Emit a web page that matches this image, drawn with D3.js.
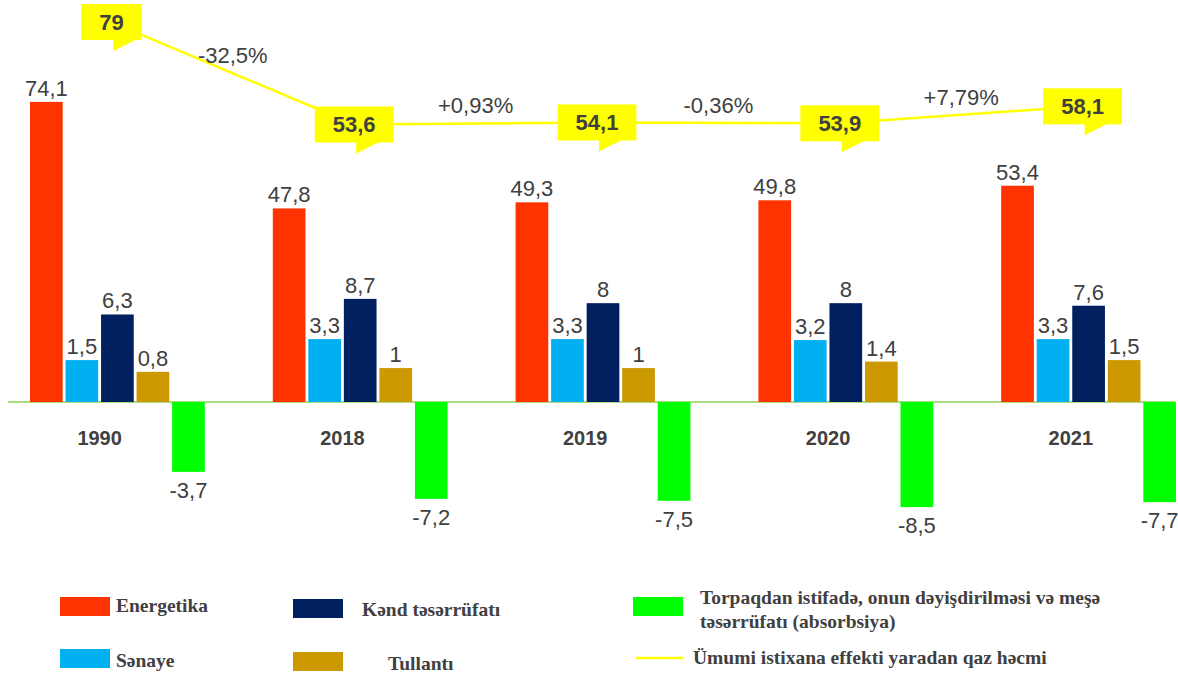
<!DOCTYPE html>
<html lang="az">
<head>
<meta charset="UTF-8">
<title>İstixana qazları</title>
<script src="https://d3js.org/d3.v7.min.js"></script>
<style>
    body { margin: 0; background: #fff; }
    svg { display: block; }
    .val { font-family: "Liberation Sans", Arial, sans-serif; font-size: 22px; fill: #404040; }
    .year { font-family: "Liberation Sans", Arial, sans-serif; font-size: 20px; font-weight: bold; fill: #404040; }
    .legend { font-family: "Liberation Serif", "Times New Roman", serif; font-size: 19.5px; font-weight: bold; fill: #404040; }
</style>
</head>
<body>
<svg id="chart" width="1178" height="675"></svg>
<script>
    // data
    const years = ["1990", "2018", "2019", "2020", "2021"];
    const energetika = [74.1, 47.8, 49.3, 49.8, 53.4];
    const senaye = [1.5, 3.3, 3.3, 3.2, 3.3];
    const kend = [6.3, 8.7, 8, 8, 7.6];
    const tullanti = [0.8, 1, 1, 1.4, 1.5];
    const torpaq = [-3.7, -7.2, -7.5, -8.5, -7.7];
    const umumi = [79, 53.6, 54.1, 53.9, 58.1];
    const changes = ["-32,5%", "+0,93%", "-0,36%", "+7,79%"];

    const series = [
        { key: "energetika", name: "Energetika", values: energetika, color: "#FF3300" },
        { key: "senaye", name: "Sənaye", values: senaye, color: "#00B0F0" },
        { key: "kend", name: "Kənd təsərrüfatı", values: kend, color: "#002060" },
        { key: "tullanti", name: "Tullantı", values: tullanti, color: "#CC9900" },
        { key: "torpaq", name: "Torpaqdan istifadə, onun dəyişdirilməsi və meşə təsərrüfatı (absorbsiya)", values: torpaq, color: "#00FF00" }
    ];

    const svg = d3.select("#chart");
    const zeroY = 402;
    const fmt = v => String(v).replace(".", ",");

    // group + inner band scales
    const x0 = d3.scaleBand().domain(years).range([-4, 1210]).paddingInner(0.28).paddingOuter(0.14);
    const x1 = d3.scaleBand().domain(series.map(s => s.key)).range([0, x0.bandwidth()]).paddingInner(0.08);

    // the big sector uses a linear scale, the small ones are drawn on a compressed (sqrt) scale like the original
    const yMain = d3.scaleLinear().domain([0, 80]).range([zeroY, zeroY - 4.05 * 80]);
    const ySmall = d3.scaleSqrt().domain([-10, 10]).range([zeroY + 36 * Math.sqrt(10), zeroY - 35 * Math.sqrt(10)]);
    const yLine = d3.scaleLinear().domain([50, 80]).range([139, 18]);

    const yFor = s => s.key === "energetika" ? yMain : ySmall;

    const rows = [];
    series.forEach(s => {
        s.values.forEach((v, i) => rows.push({ s, year: years[i], v }));
    });

    // zero line
    svg.append("line")
        .attr("x1", 8).attr("x2", 1175)
        .attr("y1", zeroY).attr("y2", zeroY)
        .attr("stroke", "#92D050").attr("stroke-width", 1.5);

    // bars
    svg.selectAll("rect.bar")
        .data(rows)
        .enter()
        .append("rect")
        .attr("class", "bar")
        .attr("x", d => x0(d.year) + x1(d.s.key))
        .attr("width", x1.bandwidth())
        .attr("y", d => Math.min(yFor(d.s)(d.v), zeroY))
        .attr("height", d => Math.abs(yFor(d.s)(d.v) - zeroY))
        .attr("fill", d => d.s.color);

    // value labels
    svg.selectAll("text.val")
        .data(rows)
        .enter()
        .append("text")
        .attr("class", "val")
        .attr("text-anchor", "middle")
        .attr("x", d => x0(d.year) + x1(d.s.key) + x1.bandwidth() / 2)
        .attr("y", d => d.v < 0 ? yFor(d.s)(d.v) + 26 : yFor(d.s)(d.v) - 6)
        .text(d => fmt(d.v));

    // year labels, centred under the first four bars
    svg.selectAll("text.year")
        .data(years)
        .enter()
        .append("text")
        .attr("class", "year")
        .attr("text-anchor", "middle")
        .attr("x", d => x0(d) + (x1("energetika") + x1("tullanti") + x1.bandwidth()) / 2)
        .attr("y", 445)
        .text(d => d);

    // total line
    const pts = umumi.map((v, i) => [x0(years[i]) + x0.bandwidth() / 2 - 6, yLine(v)]);
    svg.append("path")
        .datum(pts)
        .attr("fill", "none")
        .attr("stroke", "#FFFF00")
        .attr("stroke-width", 2.5)
        .attr("d", d3.line());

    // percent changes between points
    changes.forEach((c, i) => {
        const a = pts[i], b = pts[i + 1];
        svg.append("text")
            .attr("class", "val")
            .attr("text-anchor", "middle")
            .attr("x", (a[0] + b[0]) / 2)
            .attr("y", (a[1] + b[1]) / 2 - 10)
            .text(c);
    });

    // callout boxes
    umumi.forEach((v, i) => {
        const [cx, cy] = pts[i];
        const g = svg.append("g");
        const t = g.append("text")
            .attr("class", "val")
            .attr("font-weight", "bold")
            .attr("text-anchor", "middle")
            .attr("x", cx).attr("y", cy + 8)
            .text(fmt(v));
        const w = t.node().getComputedTextLength() + 36;
        const h = 36;
        g.insert("rect", "text")
            .attr("x", cx - w / 2).attr("y", cy - h / 2)
            .attr("width", w).attr("height", h)
            .attr("fill", "#FFFF00");
        g.insert("path", "text")
            .attr("d", `M${cx + 2},${cy + h / 2 - 1} L${cx + 26},${cy + h / 2 - 1} L${cx + 2},${cy + h / 2 + 11} Z`)
            .attr("fill", "#FFFF00");
    });

    // legend
    const leg = svg.append("g");
    const sw = [
        { s: series[0], x: 60, y: 597 },
        { s: series[1], x: 60, y: 649 },
        { s: series[2], x: 293, y: 599 },
        { s: series[3], x: 293, y: 652 },
        { s: series[4], x: 633, y: 597 }
    ];
    sw.forEach(d => {
        leg.append("rect")
            .attr("x", d.x).attr("y", d.y)
            .attr("width", 50).attr("height", 19)
            .attr("fill", d.s.color);
    });
    leg.append("text").attr("class", "legend").attr("x", 116).attr("y", 612).text(series[0].name);
    leg.append("text").attr("class", "legend").attr("x", 116).attr("y", 667).text(series[1].name);
    leg.append("text").attr("class", "legend").attr("x", 362).attr("y", 616).text(series[2].name);
    leg.append("text").attr("class", "legend").attr("x", 388).attr("y", 670).text(series[3].name);
    leg.append("text").attr("class", "legend").attr("x", 700).attr("y", 604).text("Torpaqdan istifadə, onun dəyişdirilməsi və meşə");
    leg.append("text").attr("class", "legend").attr("x", 700).attr("y", 628).text("təsərrüfatı (absorbsiya)");
    leg.append("line")
        .attr("x1", 636).attr("x2", 683)
        .attr("y1", 658).attr("y2", 658)
        .attr("stroke", "#FFFF00").attr("stroke-width", 2.5);
    leg.append("text").attr("class", "legend").attr("x", 693).attr("y", 664).text("Ümumi istixana effekti yaradan qaz həcmi");
</script>
</body>
</html>
